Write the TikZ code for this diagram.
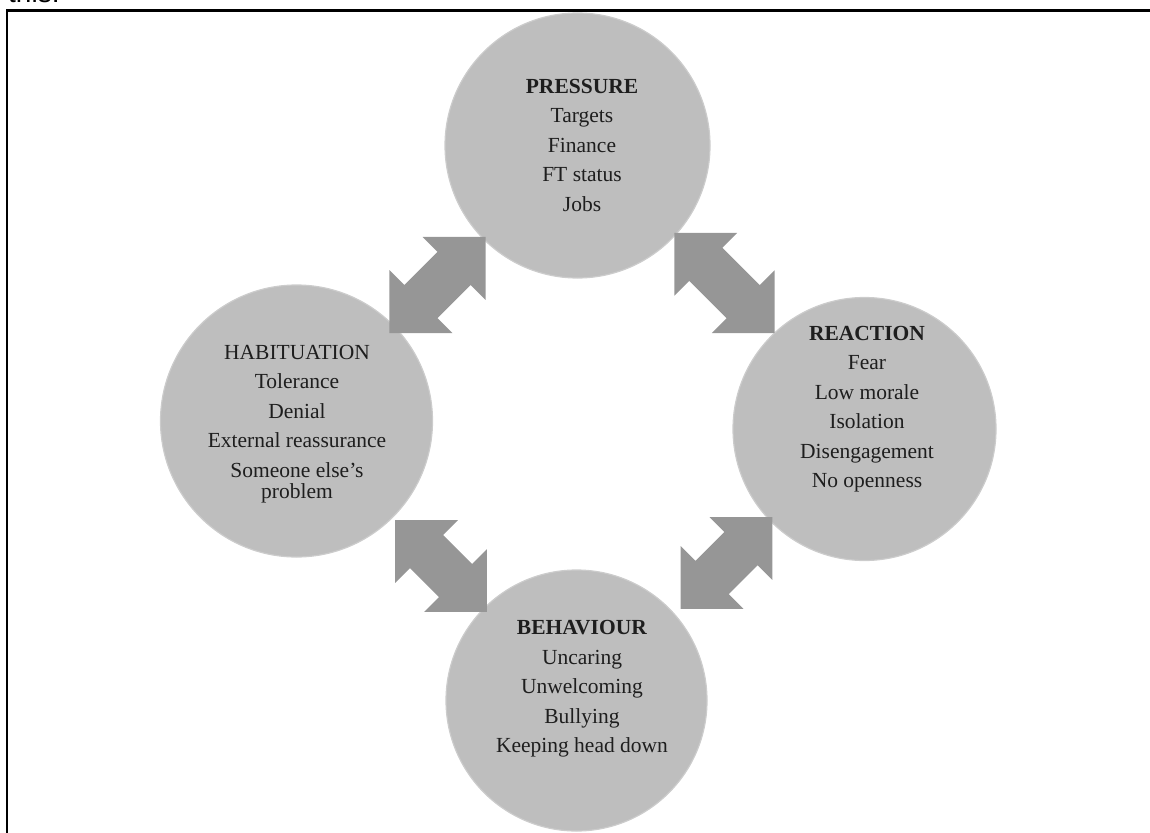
\documentclass[tikz,border=0pt]{standalone}
\usepackage{fontspec}
\setmainfont{Liberation Serif}
\newfontfamily\fragfont{Liberation Sans}
\definecolor{circfill}{RGB}{190,190,190}
\definecolor{circedge}{RGB}{204,204,204}
\definecolor{arrowfill}{RGB}{150,150,150}
\definecolor{txt}{RGB}{30,30,30}
\begin{document}
\begin{tikzpicture}[x=1pt,y=-1pt,
  stage/.style={circle, fill=circfill, draw=circedge, line width=1.2pt, inner sep=0pt, minimum size=#1},
  stagetext/.style={align=center, text=txt, font=\fontsize{21.5}{29.5}\selectfont, inner sep=0pt},
  frameline/.style={line width=2.4pt, black}]
\useasboundingbox (0,0) rectangle (1150,832);
% clipped text fragment above the frame
\node[anchor=base west, inner sep=0pt, font=\fragfont\fontsize{28}{30}\selectfont] (frag) at (8,3) {this.};
% frame
\coordinate (ftl) at (7,10.5);
\coordinate (ftr) at (1152,10.5);
\coordinate (fbl) at (7,834);
\draw[frameline] (ftr) -- (ftl) -- (fbl);
% circles
\node[stage=265pt] (pressure) at (577.5,145.5) {};
\node[stage=263pt] (reaction) at (864.5,429) {};
\node[stage=272pt] (habituation) at (296.5,421) {};
\node[stage=261pt] (behaviour) at (576.5,700.5) {};
% texts
\node[stagetext] (pressuretxt) at (582,145) {\textbf{PRESSURE}\\Targets\\Finance\\FT status\\Jobs};
\node[stagetext] (reactiontxt) at (867,409) {\textbf{REACTION}\\Fear\\Low morale\\Isolation\\Disengagement\\No openness};
\node[stagetext] (habituationtxt) at (297,424) {HABITUATION\\Tolerance\\Denial\\External reassurance\\Someone else's\\[-8.5pt]problem};
\node[stagetext] (behaviourtxt) at (582,689) {\textbf{BEHAVIOUR}\\Uncaring\\Unwelcoming\\Bullying\\Keeping head down};
% block arrows
\coordinate (aPH) at (437.5,285);
\coordinate (aPR) at (724.5,283);
\coordinate (aHB) at (441,566);
\coordinate (aRB) at (726.5,563);
\def\hw{44.5}\def\sw{23.5}
\foreach \c/\ang/\L in {aPH/45/68, aPR/-45/71, aHB/-45/65, aRB/45/65}{
  \begin{scope}[shift={(\c)}, x={({cos(\ang)*1pt},{sin(\ang)*1pt})}, y={({-sin(\ang)*1pt},{cos(\ang)*1pt})}]
    \pgfmathsetmacro{\tb}{\L-\hw}
    \fill[arrowfill] (-\L,0) -- (-\tb,\hw) -- (-\tb,\sw) -- (\tb,\sw) -- (\tb,\hw) -- (\L,0)
      -- (\tb,-\hw) -- (\tb,-\sw) -- (-\tb,-\sw) -- (-\tb,-\hw) -- cycle;
  \end{scope}
}
\end{tikzpicture}
\end{document}
